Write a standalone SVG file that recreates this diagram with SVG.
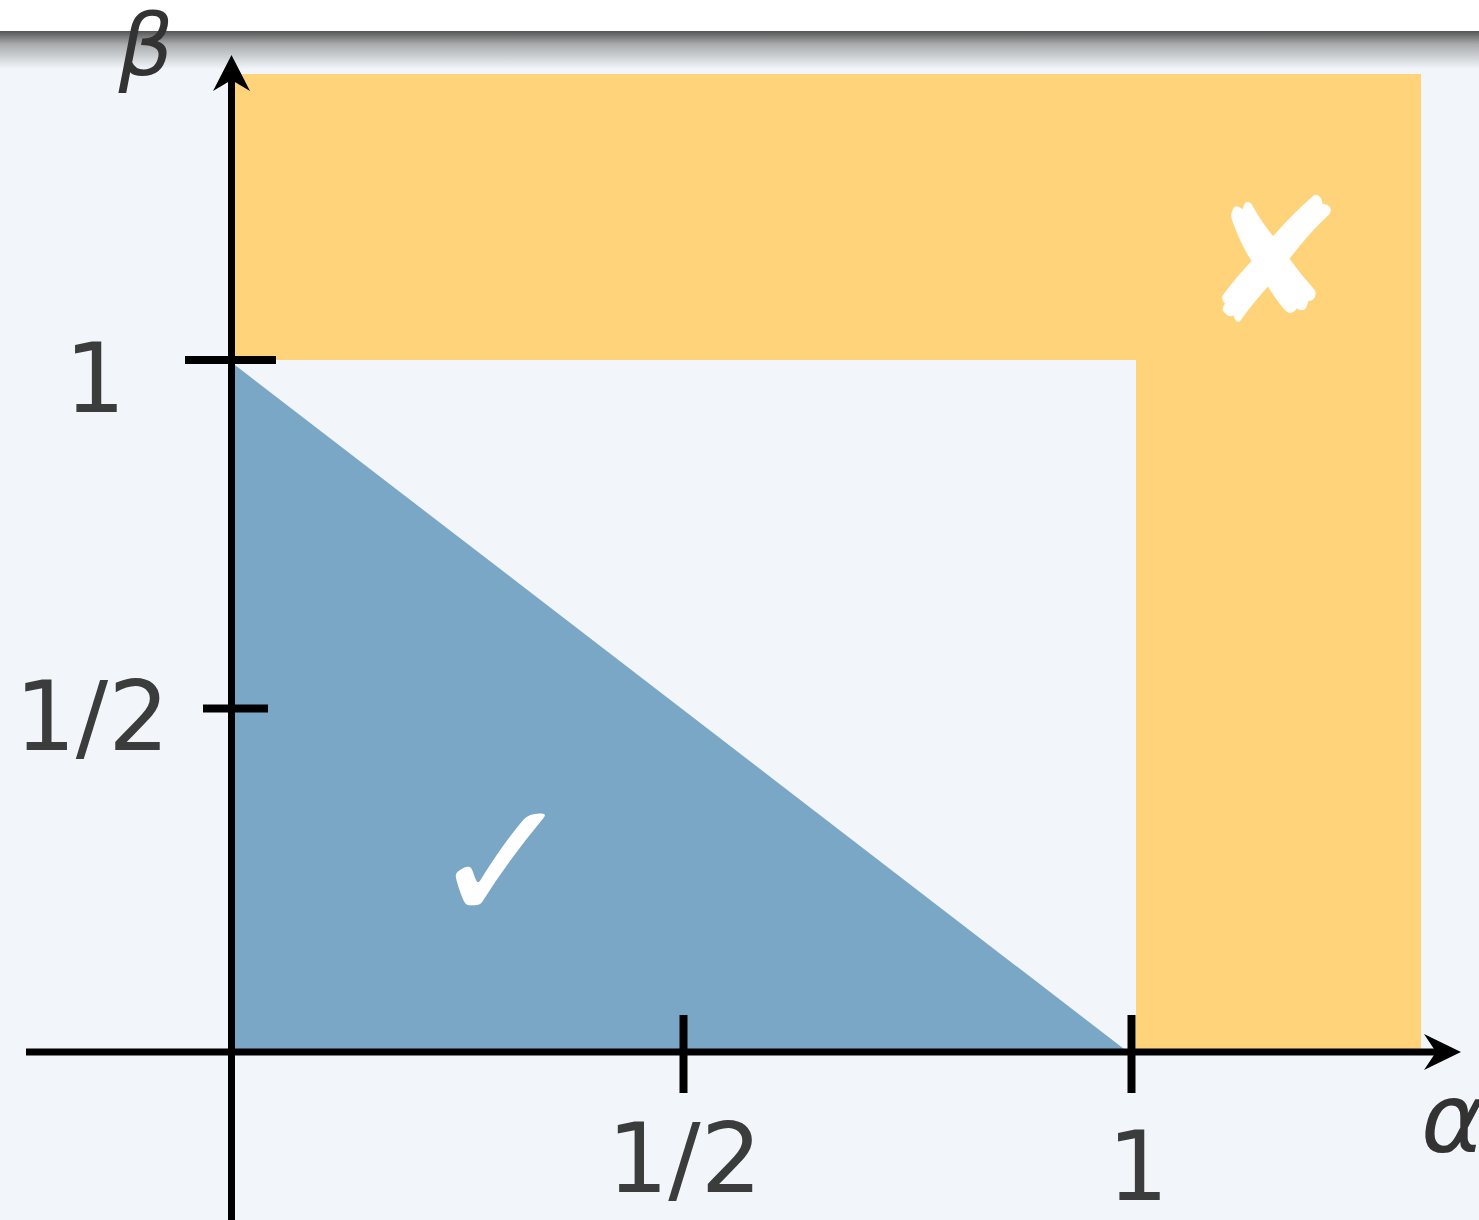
<svg xmlns="http://www.w3.org/2000/svg" width="1479" height="1220" viewBox="0 0 1479 1220">
<defs>
<linearGradient id="shadow" x1="0" y1="0" x2="0" y2="1">
<stop offset="0" stop-color="#555555"/>
<stop offset="0.35" stop-color="#a9abad"/>
<stop offset="1" stop-color="#f2f6fa"/>
</linearGradient>
</defs>
<style>
.lbl{font-family:"DejaVu Sans",sans-serif;font-size:96px;fill:#3b3c3c}
.greek{font-family:"DejaVu Sans",sans-serif;font-style:italic;fill:#333333}
.axis{stroke:#000;stroke-width:7;fill:none}
.tick{stroke:#000;stroke-width:8;fill:none}
.mark{font-family:"DejaVu Sans",sans-serif;fill:#ffffff}
</style>
<rect x="0" y="0" width="1479" height="1220" fill="#f2f6fa"/>
<rect x="0" y="0" width="1479" height="31" fill="#ffffff"/>
<rect x="0" y="31" width="1479" height="38" fill="url(#shadow)"/>
<g id="region-fail">
<path d="M235,74 H1421 V1049 H1136 V360 H235 Z" fill="#fed37a"/>
<text class="mark" x="1273" y="322" font-size="172" text-anchor="middle">✘</text>
</g>
<g id="region-ok">
<path d="M231,362 L231,1052 L1128,1052 Z" fill="#7ba7c7"/>
<text class="mark" x="502" y="922" font-size="172" text-anchor="middle">✓</text>
</g>
<g id="connectors">
<line class="axis" x1="231.5" y1="1220" x2="231.5" y2="80"/>
<path d="M231.5,55 L213,91 L231.5,80 L250,91 Z" fill="#000"/>
<line class="axis" x1="26" y1="1052" x2="1436" y2="1052"/>
<path d="M1461,1052 L1424,1034 L1436,1052 L1424,1070 Z" fill="#000"/>
<line class="tick" x1="185" y1="360" x2="276" y2="360"/>
<line class="tick" x1="203" y1="708.5" x2="268" y2="708.5"/>
<line class="tick" x1="683.5" y1="1015" x2="683.5" y2="1093"/>
<line class="tick" x1="1131.5" y1="1015" x2="1131.5" y2="1093"/>
</g>
<g id="labels">
<text class="lbl" x="95" y="412" text-anchor="middle">1</text>
<text class="lbl" x="92" y="750" text-anchor="middle">1/2</text>
<text class="lbl" x="684.5" y="1192" text-anchor="middle">1/2</text>
<text class="lbl" x="1138" y="1200" text-anchor="middle">1</text>
<text class="greek" x="146" y="75" font-size="86" text-anchor="middle">β</text>
<text class="greek" x="1421" y="1152" font-size="96">α</text>
</g>
</svg>
